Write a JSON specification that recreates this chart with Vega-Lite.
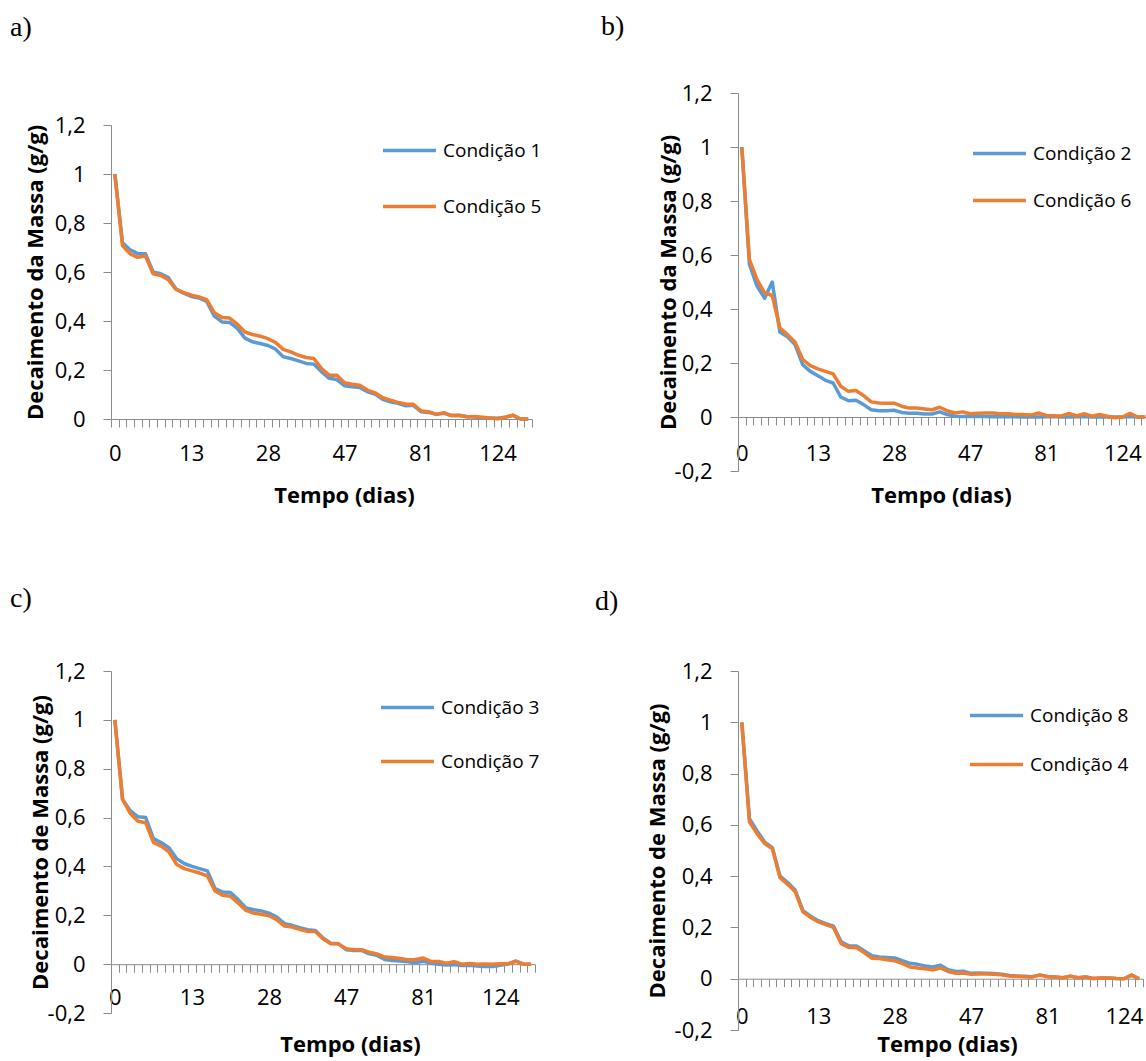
{
  "$schema": "https://vega.github.io/schema/vega-lite/v6.json",
  "padding": {"left": 10, "top": 13, "right": 0, "bottom": 15},
  "bounds": "flush",
  "columns": 2,
  "align": "none",
  "spacing": {"row": 200, "column": 203},
  "resolve": {"scale": {"color": "independent", "x": "independent", "y": "independent"}, "legend": {"color": "independent"}},
  "datasets": {
    "d": [
      {"dia":0,"Condição 1":1.0,"Condição 5":1.0,"Condição 2":1.0,"Condição 6":1.0,"Condição 3":1.0,"Condição 7":1.0,"Condição 8":1.0,"Condição 4":1.0},
      {"dia":1,"Condição 1":0.72,"Condição 5":0.708,"Condição 2":0.565,"Condição 6":0.583,"Condição 3":0.674,"Condição 7":0.674,"Condição 8":0.624,"Condição 4":0.611},
      {"dia":2,"Condição 1":0.69,"Condição 5":0.674,"Condição 2":0.485,"Condição 6":0.509,"Condição 3":0.628,"Condição 7":0.617,"Condição 8":0.576,"Condição 4":0.566},
      {"dia":3,"Condição 1":0.675,"Condição 5":0.66,"Condição 2":0.44,"Condição 6":0.46,"Condição 3":0.603,"Condição 7":0.585,"Condição 8":0.533,"Condição 4":0.527},
      {"dia":4,"Condição 1":0.675,"Condição 5":0.665,"Condição 2":0.5,"Condição 6":0.45,"Condição 3":0.6,"Condição 7":0.579,"Condição 8":0.511,"Condição 4":0.507},
      {"dia":5,"Condição 1":0.6,"Condição 5":0.593,"Condição 2":0.315,"Condição 6":0.33,"Condição 3":0.514,"Condição 7":0.498,"Condição 8":0.4,"Condição 4":0.394},
      {"dia":6,"Condição 1":0.593,"Condição 5":0.586,"Condição 2":0.297,"Condição 6":0.305,"Condição 3":0.498,"Condição 7":0.483,"Condição 8":0.375,"Condição 4":0.368},
      {"dia":7,"Condição 1":0.577,"Condição 5":0.568,"Condição 2":0.268,"Condição 6":0.277,"Condição 3":0.477,"Condição 7":0.46,"Condição 8":0.345,"Condição 4":0.339},
      {"dia":9,"Condição 1":0.53,"Condição 5":0.529,"Condição 2":0.194,"Condição 6":0.213,"Condição 3":0.432,"Condição 7":0.409,"Condição 8":0.265,"Condição 4":0.261},
      {"dia":11,"Condição 1":0.514,"Condição 5":0.516,"Condição 2":0.169,"Condição 6":0.19,"Condição 3":0.412,"Condição 7":0.391,"Condição 8":0.244,"Condição 4":0.239},
      {"dia":13,"Condição 1":0.5,"Condição 5":0.505,"Condição 2":0.153,"Condição 6":0.178,"Condição 3":0.4,"Condição 7":0.382,"Condição 8":0.226,"Condição 4":0.222},
      {"dia":14,"Condição 1":0.494,"Condição 5":0.498,"Condição 2":0.136,"Condição 6":0.169,"Condição 3":0.391,"Condição 7":0.373,"Condição 8":0.215,"Condição 4":0.211},
      {"dia":15,"Condição 1":0.48,"Condição 5":0.487,"Condição 2":0.126,"Condição 6":0.16,"Condição 3":0.382,"Condição 7":0.361,"Condição 8":0.205,"Condição 4":0.2},
      {"dia":16,"Condição 1":0.42,"Condição 5":0.434,"Condição 2":0.074,"Condição 6":0.114,"Condição 3":0.309,"Condição 7":0.3,"Condição 8":0.144,"Condição 4":0.137},
      {"dia":17,"Condição 1":0.396,"Condição 5":0.414,"Condição 2":0.06,"Condição 6":0.095,"Condição 3":0.295,"Condição 7":0.282,"Condição 8":0.128,"Condição 4":0.122},
      {"dia":19,"Condição 1":0.394,"Condição 5":0.412,"Condição 2":0.062,"Condição 6":0.098,"Condição 3":0.293,"Condição 7":0.278,"Condição 8":0.128,"Condição 4":0.122},
      {"dia":20,"Condição 1":0.37,"Condição 5":0.387,"Condição 2":0.046,"Condição 6":0.079,"Condição 3":0.264,"Condição 7":0.25,"Condição 8":0.109,"Condição 4":0.102},
      {"dia":22,"Condição 1":0.33,"Condição 5":0.355,"Condição 2":0.027,"Condição 6":0.056,"Condição 3":0.23,"Condição 7":0.22,"Condição 8":0.09,"Condição 4":0.08},
      {"dia":24,"Condição 1":0.315,"Condição 5":0.345,"Condição 2":0.023,"Condição 6":0.052,"Condição 3":0.223,"Condição 7":0.209,"Condição 8":0.085,"Condição 4":0.079},
      {"dia":26,"Condição 1":0.308,"Condição 5":0.338,"Condição 2":0.023,"Condição 6":0.051,"Condição 3":0.218,"Condição 7":0.204,"Condição 8":0.083,"Condição 4":0.074},
      {"dia":28,"Condição 1":0.3,"Condição 5":0.328,"Condição 2":0.025,"Condição 6":0.051,"Condição 3":0.209,"Condição 7":0.198,"Condição 8":0.081,"Condição 4":0.07},
      {"dia":29,"Condição 1":0.285,"Condição 5":0.312,"Condição 2":0.017,"Condição 6":0.04,"Condição 3":0.193,"Condição 7":0.182,"Condição 8":0.07,"Condição 4":0.06},
      {"dia":31,"Condição 1":0.254,"Condição 5":0.284,"Condição 2":0.014,"Condição 6":0.033,"Condição 3":0.166,"Condição 7":0.156,"Condição 8":0.06,"Condição 4":0.046},
      {"dia":33,"Condição 1":0.247,"Condição 5":0.274,"Condição 2":0.014,"Condição 6":0.033,"Condição 3":0.159,"Condição 7":0.152,"Condição 8":0.056,"Condição 4":0.042},
      {"dia":35,"Condição 1":0.237,"Condição 5":0.26,"Condição 2":0.011,"Condição 6":0.03,"Condição 3":0.149,"Condição 7":0.142,"Condição 8":0.05,"Condição 4":0.039},
      {"dia":37,"Condição 1":0.227,"Condição 5":0.251,"Condição 2":0.011,"Condição 6":0.027,"Condição 3":0.141,"Condição 7":0.134,"Condição 8":0.046,"Condição 4":0.035},
      {"dia":39,"Condição 1":0.224,"Condição 5":0.247,"Condição 2":0.019,"Condição 6":0.036,"Condição 3":0.138,"Condição 7":0.134,"Condição 8":0.053,"Condição 4":0.042},
      {"dia":41,"Condição 1":0.193,"Condição 5":0.206,"Condição 2":0.009,"Condição 6":0.023,"Condição 3":0.107,"Condição 7":0.104,"Condição 8":0.035,"Condição 4":0.028},
      {"dia":43,"Condição 1":0.166,"Condição 5":0.179,"Condição 2":0.003,"Condição 6":0.015,"Condição 3":0.086,"Condição 7":0.083,"Condição 8":0.028,"Condição 4":0.021},
      {"dia":45,"Condição 1":0.161,"Condição 5":0.179,"Condição 2":0.002,"Condição 6":0.019,"Condição 3":0.083,"Condição 7":0.083,"Condição 8":0.029,"Condição 4":0.022},
      {"dia":47,"Condição 1":0.136,"Condição 5":0.148,"Condição 2":0.003,"Condição 6":0.012,"Condição 3":0.059,"Condição 7":0.063,"Condição 8":0.021,"Condição 4":0.017},
      {"dia":50,"Condição 1":0.132,"Condição 5":0.142,"Condição 2":0.002,"Condição 6":0.014,"Condição 3":0.056,"Condição 7":0.059,"Condição 8":0.022,"Condição 4":0.018},
      {"dia":53,"Condição 1":0.129,"Condição 5":0.138,"Condição 2":0.002,"Condição 6":0.015,"Condição 3":0.056,"Condição 7":0.059,"Condição 8":0.021,"Condição 4":0.018},
      {"dia":56,"Condição 1":0.111,"Condição 5":0.118,"Condição 2":0.001,"Condição 6":0.015,"Condição 3":0.042,"Condição 7":0.049,"Condição 8":0.02,"Condição 4":0.017},
      {"dia":59,"Condição 1":0.102,"Condição 5":0.107,"Condição 2":0.001,"Condição 6":0.012,"Condição 3":0.036,"Condição 7":0.042,"Condição 8":0.017,"Condição 4":0.015},
      {"dia":62,"Condição 1":0.08,"Condição 5":0.087,"Condição 2":0.001,"Condição 6":0.012,"Condição 3":0.019,"Condição 7":0.029,"Condição 8":0.013,"Condição 4":0.011},
      {"dia":66,"Condição 1":0.07,"Condição 5":0.077,"Condição 2":0.001,"Condição 6":0.009,"Condição 3":0.015,"Condição 7":0.027,"Condição 8":0.011,"Condição 4":0.01},
      {"dia":70,"Condição 1":0.064,"Condição 5":0.068,"Condição 2":0.0,"Condição 6":0.009,"Condição 3":0.013,"Condição 7":0.023,"Condição 8":0.01,"Condição 4":0.008},
      {"dia":74,"Condição 1":0.054,"Condição 5":0.061,"Condição 2":0.0,"Condição 6":0.007,"Condição 3":0.01,"Condição 7":0.018,"Condição 8":0.008,"Condição 4":0.007},
      {"dia":78,"Condição 1":0.056,"Condição 5":0.06,"Condição 2":0.0,"Condição 6":0.015,"Condição 3":0.006,"Condição 7":0.019,"Condição 8":0.015,"Condição 4":0.014},
      {"dia":81,"Condição 1":0.03,"Condição 5":0.033,"Condição 2":0.001,"Condição 6":0.006,"Condição 3":0.012,"Condição 7":0.025,"Condição 8":0.009,"Condição 4":0.008},
      {"dia":85,"Condição 1":0.027,"Condição 5":0.03,"Condição 2":0.002,"Condição 6":0.005,"Condição 3":0.004,"Condição 7":0.011,"Condição 8":0.007,"Condição 4":0.007},
      {"dia":89,"Condição 1":0.019,"Condição 5":0.019,"Condição 2":0.0,"Condição 6":0.004,"Condição 3":0.0,"Condição 7":0.011,"Condição 8":0.004,"Condição 4":0.004},
      {"dia":93,"Condição 1":0.023,"Condição 5":0.026,"Condição 2":0.0,"Condição 6":0.013,"Condição 3":-0.004,"Condição 7":0.004,"Condição 8":0.01,"Condição 4":0.01},
      {"dia":97,"Condição 1":0.014,"Condição 5":0.014,"Condição 2":0.001,"Condição 6":0.004,"Condição 3":-0.002,"Condição 7":0.01,"Condição 8":0.004,"Condição 4":0.004},
      {"dia":101,"Condição 1":0.014,"Condição 5":0.015,"Condição 2":0.002,"Condição 6":0.012,"Condição 3":-0.006,"Condição 7":0.0,"Condição 8":0.007,"Condição 4":0.007},
      {"dia":105,"Condição 1":0.01,"Condição 5":0.008,"Condição 2":0.0,"Condição 6":0.003,"Condição 3":-0.005,"Condição 7":0.003,"Condição 8":0.001,"Condição 4":0.001},
      {"dia":110,"Condição 1":0.008,"Condição 5":0.01,"Condição 2":0.0,"Condição 6":0.009,"Condição 3":-0.008,"Condição 7":0.0,"Condição 8":0.003,"Condição 4":0.003},
      {"dia":115,"Condição 1":0.005,"Condição 5":0.007,"Condição 2":0.001,"Condição 6":0.003,"Condição 3":-0.01,"Condição 7":0.001,"Condição 8":0.003,"Condição 4":0.003},
      {"dia":120,"Condição 1":0.004,"Condição 5":0.004,"Condição 2":0.0,"Condição 6":-0.003,"Condição 3":-0.01,"Condição 7":0.0,"Condição 8":0.001,"Condição 4":0.001},
      {"dia":124,"Condição 1":0.003,"Condição 5":0.001,"Condição 2":0.0,"Condição 6":0.0,"Condição 3":-0.005,"Condição 7":0.002,"Condição 8":0.0,"Condição 4":0.0},
      {"dia":128,"Condição 1":0.007,"Condição 5":0.007,"Condição 2":0.002,"Condição 6":0.014,"Condição 3":0.0,"Condição 7":0.002,"Condição 8":0.014,"Condição 4":0.014},
      {"dia":132,"Condição 1":0.015,"Condição 5":0.016,"Condição 2":0.0,"Condição 6":0.0,"Condição 3":0.012,"Condição 7":0.012,"Condição 8":0.0,"Condição 4":0.0},
      {"dia":136,"Condição 1":0.0,"Condição 5":0.0,"Condição 2":0.0,"Condição 6":0.0,"Condição 3":0.0,"Condição 7":0.0,"Condição 8":0.0,"Condição 4":0.0},
      {"dia":140,"Condição 1":0.0,"Condição 5":0.0,"Condição 2":0.0,"Condição 6":0.0,"Condição 3":0.0,"Condição 7":0.0,"Condição 8":0.0,"Condição 4":0.0}
    ]
  },
  "concat": [
    {
      "width": 421, "height": 326,
      "title": {"text": "a)", "dx": -101, "offset": 51},
      "data": {"name": "d"},
      "transform": [{"fold": ["Condição 1", "Condição 5"], "as": ["serie", "valor"]}],
      "mark": {"type": "line", "strokeWidth": 3.5, "strokeJoin": "round"},
      "encoding": {
        "x": {"field": "dia", "type": "ordinal", "bandPosition": 0.5,
          "scale": {"type": "band", "paddingInner": 0, "paddingOuter": 0},
          "axis": {"title": "Tempo (dias)", "tickBand": "extent", "labelAngle": 0, "labelOverlap": false,
            "labelExpr": "indexof([0,13,28,47,81,124], datum.value) >= 0 ? datum.label : ''",
            "tickSize": 8, "labelPadding": 16, "titleX": 233, "titleY": 76, "titleBaseline": "middle"}},
        "y": {"field": "valor", "type": "quantitative",
          "scale": {"domain": [0, 1.2], "range": [326, 32], "nice": false, "zero": false},
          "axis": {"title": "Decaimento da Massa (g/g)", "values": [0, 0.2, 0.4, 0.6, 0.8, 1, 1.2],
            "labelExpr": "replace(toString(round(datum.value*10)/10), '.', ',')",
            "tickSize": 8, "labelPadding": 18, "titleX": -76, "titleBaseline": "middle"}},
        "color": {"field": "serie", "type": "nominal",
          "scale": {"domain": ["Condição 1", "Condição 5"], "range": ["#5B9BD5", "#ED7D31"]},
          "legend": {"orient": "none", "legendX": 270, "legendY": 29, "rowPadding": 17}}
      }
    },
    {
      "width": 411, "height": 378,
      "title": {"text": "b)", "dx": -137, "offset": 41},
      "data": {"name": "d"},
      "transform": [{"filter": "datum.dia <= 136"}, {"fold": ["Condição 2", "Condição 6"], "as": ["serie", "valor"]}],
      "mark": {"type": "line", "strokeWidth": 3.5, "strokeJoin": "round"},
      "encoding": {
        "x": {"field": "dia", "type": "ordinal", "bandPosition": 0.5,
          "scale": {"type": "band", "paddingInner": 0, "paddingOuter": 0},
          "axis": {"title": "Tempo (dias)", "tickBand": "extent", "labelAngle": 0, "labelOverlap": false, "offset": -54,
            "labelExpr": "indexof([0,13,28,47,81,124], datum.value) >= 0 ? datum.label : ''",
            "tickSize": 8, "labelPadding": 18, "titleX": 203, "titleY": 78, "titleBaseline": "middle"}},
        "y": {"field": "valor", "type": "quantitative",
          "scale": {"domain": [-0.2, 1.2], "nice": false, "zero": false},
          "axis": {"title": "Decaimento da Massa (g/g)", "values": [-0.2, 0, 0.2, 0.4, 0.6, 0.8, 1, 1.2],
            "labelExpr": "replace(toString(round(datum.value*10)/10), '.', ',')",
            "tickSize": 8, "labelPadding": 18, "titleX": -70, "titleBaseline": "middle"}},
        "color": {"field": "serie", "type": "nominal",
          "scale": {"domain": ["Condição 2", "Condição 6"], "range": ["#5B9BD5", "#ED7D31"]},
          "legend": {"orient": "none", "legendX": 233, "legendY": 32, "rowPadding": 8}}
      }
    },
    {
      "width": 424, "height": 342,
      "title": {"text": "c)", "dx": -101, "offset": 47},
      "data": {"name": "d"},
      "transform": [{"fold": ["Condição 3", "Condição 7"], "as": ["serie", "valor"]}],
      "mark": {"type": "line", "strokeWidth": 3.5, "strokeJoin": "round"},
      "encoding": {
        "x": {"field": "dia", "type": "ordinal", "bandPosition": 0.5,
          "scale": {"type": "band", "paddingInner": 0, "paddingOuter": 0},
          "axis": {"title": "Tempo (dias)", "tickBand": "extent", "labelAngle": 0, "labelOverlap": false, "offset": -48.8,
            "labelExpr": "indexof([0,13,28,47,81,124], datum.value) >= 0 ? datum.label : ''",
            "tickSize": 8, "labelPadding": 15, "titleX": 239, "titleY": 80, "titleBaseline": "middle"}},
        "y": {"field": "valor", "type": "quantitative",
          "scale": {"domain": [-0.2, 1.2], "nice": false, "zero": false},
          "axis": {"title": "Decaimento de Massa (g/g)", "values": [-0.2, 0, 0.2, 0.4, 0.6, 0.8, 1, 1.2],
            "labelExpr": "replace(toString(round(datum.value*10)/10), '.', ',')",
            "tickSize": 8, "labelPadding": 18, "titleX": -71, "titleBaseline": "middle"}},
        "color": {"field": "serie", "type": "nominal",
          "scale": {"domain": ["Condição 3", "Condição 7"], "range": ["#5B9BD5", "#ED7D31"]},
          "legend": {"orient": "none", "legendX": 268, "legendY": 8, "rowPadding": 15}}
      }
    },
    {
      "width": 405, "height": 359,
      "title": {"text": "d)", "dx": -143, "offset": 44},
      "data": {"name": "d"},
      "transform": [{"filter": "datum.dia <= 132"}, {"fold": ["Condição 8", "Condição 4"], "as": ["serie", "valor"]}],
      "mark": {"type": "line", "strokeWidth": 3.5, "strokeJoin": "round"},
      "encoding": {
        "x": {"field": "dia", "type": "ordinal", "bandPosition": 0.5,
          "scale": {"type": "band", "paddingInner": 0, "paddingOuter": 0},
          "axis": {"title": "Tempo (dias)", "tickBand": "extent", "labelAngle": 0, "labelOverlap": false, "offset": -51.3,
            "labelExpr": "indexof([0,13,28,47,81,124], datum.value) >= 0 ? datum.label : ''",
            "tickSize": 8, "labelPadding": 20, "titleX": 209, "titleY": 66, "titleBaseline": "middle"}},
        "y": {"field": "valor", "type": "quantitative",
          "scale": {"domain": [-0.2, 1.2], "nice": false, "zero": false},
          "axis": {"title": "Decaimento de Massa (g/g)", "values": [-0.2, 0, 0.2, 0.4, 0.6, 0.8, 1, 1.2],
            "labelExpr": "replace(toString(round(datum.value*10)/10), '.', ',')",
            "tickSize": 8, "labelPadding": 18, "titleX": -81, "titleBaseline": "middle"}},
        "color": {"field": "serie", "type": "nominal",
          "scale": {"domain": ["Condição 8", "Condição 4"], "range": ["#5B9BD5", "#ED7D31"]},
          "legend": {"orient": "none", "legendX": 230, "legendY": 16, "rowPadding": 10}}
      }
    }
  ],
  "config": {
    "view": {"stroke": null},
    "font": "Open Sans",
    "axis": {"domainColor": "#8C8C8C", "tickColor": "#8C8C8C", "grid": false,
      "labelFont": "Open Sans", "labelFontSize": 22, "labelColor": "#000000",
      "titleFont": "Open Sans", "titleFontSize": 22, "titleFontWeight": "bold", "titleColor": "#000000"},
    "legend": {"title": null, "symbolType": "stroke", "symbolSize": 2809, "symbolStrokeWidth": 3.5,
      "labelFont": "Open Sans", "labelFontSize": 19, "labelColor": "#000000", "labelOffset": 5, "padding": 0},
    "title": {"anchor": "start", "frame": "group", "font": "Liberation Serif", "fontSize": 28, "fontWeight": "normal", "color": "#000000"}
  }
}
